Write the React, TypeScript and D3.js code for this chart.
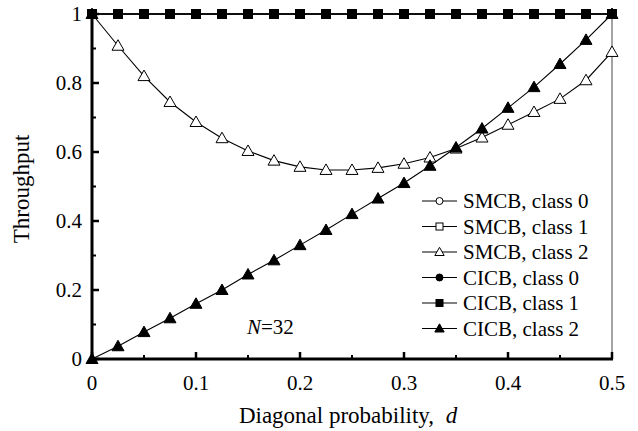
import * as d3 from "d3";
import * as React from "react";

// d = 0, 0.025, ..., 0.5
const dValues = d3.range(0, 21).map((i) => i * 0.025);

const smcbClass0 = [1, 1, 1, 1, 1, 1, 1, 1, 1, 1, 1, 1, 1, 1, 1, 1, 1, 1, 1, 1, 1];
const smcbClass1 = [1, 1, 1, 1, 1, 1, 1, 1, 1, 1, 1, 1, 1, 1, 1, 1, 1, 1, 1, 1, 1];
const smcbClass2 = [1, 0.908, 0.82, 0.745, 0.687, 0.64, 0.603, 0.575, 0.557, 0.548, 0.548, 0.554, 0.566, 0.584, 0.61, 0.642, 0.679, 0.716, 0.754, 0.808, 0.89];
const cicbClass0 = [1, 1, 1, 1, 1, 1, 1, 1, 1, 1, 1, 1, 1, 1, 1, 1, 1, 1, 1, 1, 1];
const cicbClass1 = [1, 1, 1, 1, 1, 1, 1, 1, 1, 1, 1, 1, 1, 1, 1, 1, 1, 1, 1, 1, 1];
const cicbClass2 = [0, 0.037, 0.078, 0.118, 0.16, 0.2, 0.245, 0.286, 0.33, 0.374, 0.42, 0.465, 0.51, 0.56, 0.613, 0.668, 0.728, 0.788, 0.855, 0.925, 1];

const seriesNames = ["SMCB, class 0", "SMCB, class 1", "SMCB, class 2", "CICB, class 0", "CICB, class 1", "CICB, class 2"];
const seriesValues = [smcbClass0, smcbClass1, smcbClass2, cicbClass0, cicbClass1, cicbClass2];
const seriesShapes = ["circle", "square", "triangle", "circle", "square", "triangle"];
const seriesFilled = [false, false, false, true, true, true];

const xTicks = [0, 0.1, 0.2, 0.3, 0.4, 0.5];
const xMinorTicks = [0.05, 0.15, 0.25, 0.35, 0.45];
const yTicks = [0, 0.2, 0.4, 0.6, 0.8, 1];
const yMinorTicks = [0.1, 0.3, 0.5, 0.7, 0.9];

const font = "'Liberation Serif', 'Times New Roman', serif";

function Marker({ shape, filled, x, y, size = 1 }) {
  const fill = filled ? "#000" : "#fff";
  if (shape === "circle") {
    return <circle cx={x} cy={y} r={4.5 * size} fill={fill} stroke="#000" strokeWidth={1} />;
  }
  if (shape === "square") {
    const h = 4.5 * size;
    return <rect x={x - h} y={y - h} width={2 * h} height={2 * h} fill={fill} stroke="#000" strokeWidth={1} />;
  }
  const w = 6 * size;
  return (
    <path
      d={`M${x},${y - 6 * size}L${x + w},${y + 4.5 * size}L${x - w},${y + 4.5 * size}Z`}
      fill={fill}
      stroke="#000"
      strokeWidth={1}
    />
  );
}

export default function App() {
  const width = 638;
  const height = 431;
  const margin = { top: 14, right: 26, bottom: 72, left: 92 };

  const x = d3.scaleLinear().domain([0, 0.5]).range([margin.left, width - margin.right]);
  const y = d3.scaleLinear().domain([0, 1]).range([height - margin.bottom, margin.top]);

  const line = d3
    .line<number>()
    .x((_, i) => x(dValues[i]))
    .y((v) => y(v));

  const legendX = 422;
  const legendY0 = 201;
  const legendStep = 25.5;

  return (
    <svg
      width={width}
      height={height}
      style={{ position: "absolute", left: 0, top: 0, background: "#fff" }}
      fontFamily={font}
    >
      {/* right border */}
      <line x1={x(0.5)} x2={x(0.5)} y1={y(1)} y2={y(0)} stroke="#666" strokeWidth={1.2} />

      {/* series lines + markers */}
      {seriesValues.map((vals, s) => (
        <g key={seriesNames[s]}>
          <path d={line(vals) ?? ""} fill="none" stroke="#000" strokeWidth={1.1} />
          {vals.map((v, i) => (
            <Marker key={i} shape={seriesShapes[s]} filled={seriesFilled[s]} x={x(dValues[i])} y={y(v)} />
          ))}
        </g>
      ))}

      {/* axes */}
      <line x1={x(0)} x2={x(0.5) + 1} y1={y(0)} y2={y(0)} stroke="#000" strokeWidth={3} />
      <line x1={x(0)} x2={x(0)} y1={y(0) + 1.5} y2={y(1)} stroke="#000" strokeWidth={3} />

      {xTicks.map((t) => (
        <g key={"xt" + t}>
          <line x1={x(t)} x2={x(t)} y1={y(0)} y2={y(0) - 7} stroke="#000" strokeWidth={2.5} />
          <text x={x(t)} y={y(0) + 31} textAnchor="middle" fontSize={21}>
            {t === 0 ? "0" : t.toFixed(1)}
          </text>
        </g>
      ))}
      {xMinorTicks.map((t) => (
        <line key={"xm" + t} x1={x(t)} x2={x(t)} y1={y(0)} y2={y(0) - 4} stroke="#000" strokeWidth={2} />
      ))}
      {yTicks.map((t) => (
        <g key={"yt" + t}>
          <line x1={x(0)} x2={x(0) + 7} y1={y(t)} y2={y(t)} stroke="#000" strokeWidth={2.5} />
          <text x={x(0) - 10} y={y(t) + 7} textAnchor="end" fontSize={21}>
            {t === 0 || t === 1 ? String(t) : t.toFixed(1)}
          </text>
        </g>
      ))}
      {yMinorTicks.map((t) => (
        <line key={"ym" + t} x1={x(0)} x2={x(0) + 4} y1={y(t)} y2={y(t)} stroke="#000" strokeWidth={2} />
      ))}

      {/* axis titles */}
      <text x={348} y={423} textAnchor="middle" fontSize={23}>
        Diagonal probability,{"\u00a0\u00a0"}
        <tspan fontStyle="italic">d</tspan>
      </text>
      <text transform={`translate(29,189) rotate(-90)`} textAnchor="middle" fontSize={23}>
        Throughput
      </text>

      <text x={247} y={334} fontSize={21}>
        <tspan fontStyle="italic">N</tspan>=32
      </text>

      {/* legend */}
      {seriesNames.map((name, s) => {
        const ly = legendY0 + s * legendStep;
        return (
          <g key={"lg" + name}>
            <line x1={legendX} x2={legendX + 35} y1={ly} y2={ly} stroke="#000" strokeWidth={1} />
            <Marker shape={seriesShapes[s]} filled={seriesFilled[s]} x={legendX + 17.5} y={ly} size={0.78} />
            <text x={legendX + 41} y={ly + 7} fontSize={21}>
              {name}
            </text>
          </g>
        );
      })}
    </svg>
  );
}
